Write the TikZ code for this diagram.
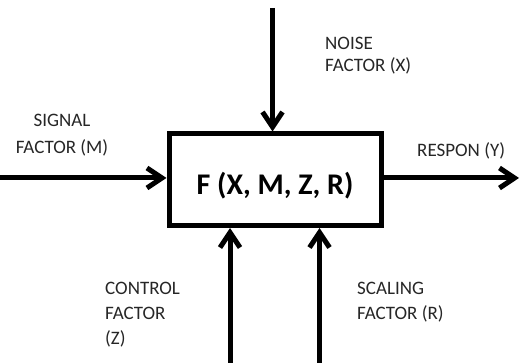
\documentclass[tikz,border=0pt]{standalone}
\usepackage{fontspec}
\setmainfont{Carlito}
\usetikzlibrary{arrows.meta}
\tikzset{
  arr/.style={line width=5pt, -{Straight Barb[length=15pt,width=20pt]}},
  fbox/.style={draw, line width=5pt, minimum width=212pt, minimum height=91.5pt, inner sep=0pt,
    font=\fontsize{30}{36}\selectfont\bfseries, text height=35pt, text depth=4.5pt},
  lbl/.style={inner sep=0pt, font=\fontsize{19}{22}\selectfont, text=black!85},
}
\begin{document}
\begin{tikzpicture}[x=1pt,y=-1pt]
\useasboundingbox (0,0) rectangle (520,363);
\node[fbox] (f) at (275,179.75) {F (X, M, Z, R)};
% coordinates for free ends
\coordinate (n0) at (272.5,8);
\coordinate (s0) at (0,178);
\coordinate (r1) at (519,178);
\coordinate (c0) at (230,363);
\coordinate (k0) at (319.5,363);
% connectors
\draw[arr] (n0) -- (n0 |- f.north);
\draw[arr] (s0) -- (s0 -| f.west);
\draw[arr] (f.east |- r1) -- (r1);
\draw[arr] (c0) -- (c0 |- f.south);
\draw[arr] (k0) -- (k0 |- f.south);
% labels
\node[lbl, anchor=base west] (noise) at (325,50)
  {\begin{tabular}[t]{@{}l@{}}NOISE\\FACTOR (X)\end{tabular}};
\node[lbl, anchor=base, font=\fontsize{19}{27}\selectfont] (signal) at (62,127)
  {\begin{tabular}[t]{@{}c@{}}SIGNAL\\FACTOR (M)\end{tabular}};
\node[lbl, anchor=base west] (respon) at (417,157) {RESPON (Y)};
\node[lbl, anchor=base west, font=\fontsize{19}{25}\selectfont] (control) at (105,295)
  {\begin{tabular}[t]{@{}l@{}}CONTROL\\FACTOR\\(Z)\end{tabular}};
\node[lbl, anchor=base west, font=\fontsize{19}{25}\selectfont] (scaling) at (357,295)
  {\begin{tabular}[t]{@{}l@{}}SCALING\\FACTOR (R)\end{tabular}};
\end{tikzpicture}
\end{document}
